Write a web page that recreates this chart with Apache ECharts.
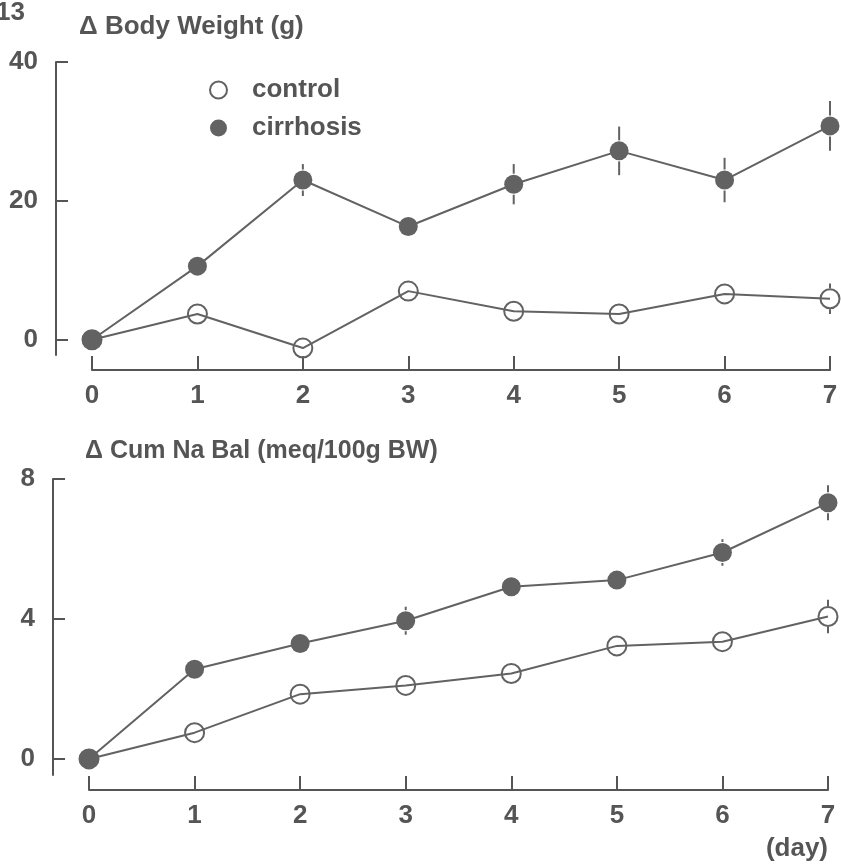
<!DOCTYPE html>
<html>
<head>
<meta charset="utf-8">
<script src="https://cdn.jsdelivr.net/npm/echarts@6/dist/echarts.min.js"></script>
<style>
  html, body { margin: 0; padding: 0; background: #fff; }
  #chart { width: 841px; height: 865px; }
</style>
</head>
<body>
<div id="chart"></div>
<script>
// Days of observation
const days = [0, 1, 2, 3, 4, 5, 6, 7];

// Change in body weight (g)
const bwControl = [0, 3.7, -1.2, 7.0, 4.1, 3.7, 6.6, 5.9];
const bwControlErr = [0, 0, 0, 0, 0, 0, 0, 2.2];
const bwCirrhosis = [0, 10.6, 23.0, 16.3, 22.4, 27.2, 23.0, 30.8];
const bwCirrhosisErr = [0, 0, 2.3, 0, 2.9, 3.5, 3.2, 3.6];

// Change in cumulative sodium balance (meq/100g BW)
const naControl = [0, 0.75, 1.85, 2.1, 2.44, 3.23, 3.35, 4.07];
const naControlErr = [0, 0, 0, 0, 0, 0, 0, 0.48];
const naCirrhosis = [0, 2.56, 3.3, 3.95, 4.92, 5.11, 5.9, 7.32];
const naCirrhosisErr = [0, 0, 0, 0.4, 0, 0, 0.38, 0.5];

const bwTicks = [0, 20, 40];
const naTicks = [0, 4, 8];

const INK = '#555';
const MARK = '#626262';
const FONT = 'Liberation Sans';
const FS = 26;
const SYM = 19;

const pairs = (ys) => days.map((d, i) => [d, ys[i]]);
const triples = (ys, es) => days.map((d, i) => [d, ys[i], es[i]]);

// Vertical SEM whiskers, interrupted where the marker sits
function whisker(params, api) {
  const x = api.value(0), y = api.value(1), e = api.value(2);
  if (!e) return null;
  const c = api.coord([x, y]);
  const hi = api.coord([x, y + e]);
  const lo = api.coord([x, y - e]);
  const gap = SYM / 2 + 1;
  const style = { stroke: MARK, lineWidth: 2 };
  const children = [];
  if (c[1] - gap > hi[1]) children.push({ type: 'line', shape: { x1: c[0], y1: hi[1], x2: c[0], y2: c[1] - gap }, style });
  if (c[1] + gap < lo[1]) children.push({ type: 'line', shape: { x1: c[0], y1: c[1] + gap, x2: c[0], y2: lo[1] }, style });
  return { type: 'group', children };
}

const axisLine = { show: true, onZero: false, lineStyle: { color: INK, width: 2 } };
const labelText = { color: INK, fontFamily: FONT, fontSize: FS, fontWeight: 'bold' };

function xAxisFor(gridIndex) {
  return {
    type: 'value', gridIndex, min: 0, max: 7, interval: 1,
    position: 'bottom', offset: 15,
    axisLine, splitLine: { show: false },
    axisTick: { show: true, inside: true, length: 14, lineStyle: { color: INK, width: 2 } },
    axisLabel: Object.assign({ margin: 13 }, labelText)
  };
}

function yAxisFor(gridIndex, min, max, ticks) {
  return {
    type: 'value', gridIndex, min, max,
    position: 'left', offset: 36,
    axisLine, splitLine: { show: false },
    axisTick: { show: true, inside: true, length: 12, customValues: ticks, lineStyle: { color: INK, width: 2 } },
    axisLabel: Object.assign({ margin: 18, customValues: ticks }, labelText)
  };
}

function lineSeries(name, ys, xi, filled) {
  return {
    type: 'line', name, xAxisIndex: xi, yAxisIndex: xi,
    data: pairs(ys), symbol: 'circle', symbolSize: SYM,
    lineStyle: { color: MARK, width: 2 },
    itemStyle: filled ? { color: MARK } : { color: 'transparent', borderColor: MARK, borderWidth: 2 },
    z: filled ? 4 : 3, animation: false
  };
}

function errSeries(ys, es, xi) {
  return {
    type: 'custom', xAxisIndex: xi, yAxisIndex: xi,
    data: triples(ys, es), renderItem: whisker, z: 2, animation: false, clip: false
  };
}

const titleText = { color: INK, fontFamily: FONT, fontSize: FS, fontWeight: 'bold' };

const chart = echarts.init(document.getElementById('chart'), null, { renderer: 'canvas' });
chart.setOption({
  backgroundColor: '#fff',
  animation: false,
  title: [
    { text: 'Δ Body Weight (g)', left: 74, top: 9, textStyle: titleText },
    { text: 'Δ Cum Na Bal (meq/100g BW)', left: 80, top: 434, textStyle: Object.assign({}, titleText, { fontSize: 25 }) }
  ],
  legend: {
    orient: 'vertical', left: 204, top: 72,
    itemWidth: 17, itemHeight: 17, itemGap: 12,
    icon: 'circle', selectedMode: false,
    textStyle: { color: INK, fontFamily: FONT, fontSize: FS, fontWeight: 'bold', padding: [0, 0, 0, 20] },
    data: [
      { name: 'control', itemStyle: { color: 'transparent', borderColor: MARK, borderWidth: 2 } },
      { name: 'cirrhosis', itemStyle: { color: MARK } }
    ]
  },
  grid: [
    { left: 92, right: 11, top: 62, height: 293 },
    { left: 89, right: 13, top: 479, height: 296 }
  ],
  xAxis: [xAxisFor(0), xAxisFor(1)],
  yAxis: [
    yAxisFor(0, -2.2, 40, bwTicks),
    yAxisFor(1, -0.46, 8, naTicks)
  ],
  graphic: [
    { type: 'text', left: -4, top: 0, style: { text: '13', fill: INK, font: 'bold 26px "Liberation Sans"' } },
    { type: 'text', right: 13, top: 836, style: { text: '(day)', fill: INK, font: 'bold 26px "Liberation Sans"' } }
  ],
  series: [
    errSeries(bwControl, bwControlErr, 0),
    errSeries(bwCirrhosis, bwCirrhosisErr, 0),
    lineSeries('control', bwControl, 0, false),
    lineSeries('cirrhosis', bwCirrhosis, 0, true),
    errSeries(naControl, naControlErr, 1),
    errSeries(naCirrhosis, naCirrhosisErr, 1),
    lineSeries('control', naControl, 1, false),
    lineSeries('cirrhosis', naCirrhosis, 1, true)
  ]
});
</script>
</body>
</html>
